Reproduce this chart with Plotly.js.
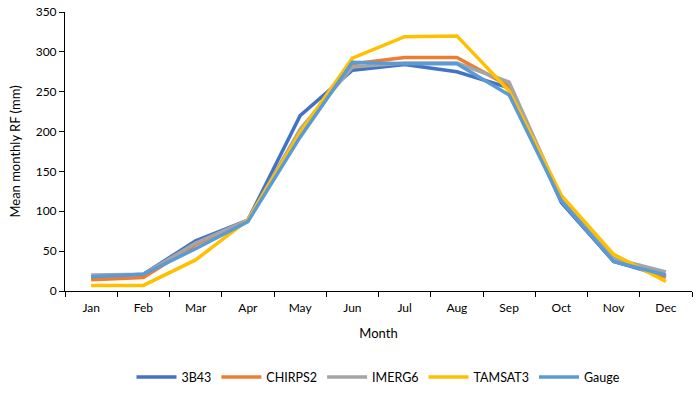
<!DOCTYPE html>
<html lang="en">
<head>
    <meta charset="UTF-8">
    <title>Mean monthly RF</title>
    <script src="https://cdn.plot.ly/plotly-3.0.1.min.js"></script>
    <style>
        body { margin: 0; background: white; }
        #chart { width: 700px; height: 393px; }
    </style>
</head>
<body>
    <div id="chart"></div>
    <script>
        // Mean monthly rainfall (mm) per product
        const months = ['Jan', 'Feb', 'Mar', 'Apr', 'May', 'Jun', 'Jul', 'Aug', 'Sep', 'Oct', 'Nov', 'Dec'];
        const b43     = [18, 21, 63, 89, 220, 277, 284, 275, 255, 111, 37, 18];
        const chirps2 = [14, 17, 58, 89, 200, 285, 293, 293, 257, 115, 40, 17];
        const imerg6  = [20, 21, 60, 89, 203, 281, 286, 286, 262, 116, 41, 24];
        const tamsat3 = [7, 7, 39, 89, 199, 292, 319, 320, 251, 120, 46, 12];
        const gauge   = [18, 21, 53, 87, 193, 287, 285, 285, 246, 113, 37, 20];

        const series = [
            { name: '3B43', y: b43, color: '#4472C4' },
            { name: 'CHIRPS2', y: chirps2, color: '#ED7D31' },
            { name: 'IMERG6', y: imerg6, color: '#A5A5A5' },
            { name: 'TAMSAT3', y: tamsat3, color: '#FFC000' },
            { name: 'Gauge', y: gauge, color: '#5B9BD5' }
        ];

        const data = series.map(s => ({
            type: 'scatter',
            mode: 'lines',
            x: months,
            y: s.y,
            name: s.name,
            line: { color: s.color, width: 3.5 }
        }));

        const font = { family: 'Lato, "Liberation Sans", sans-serif', size: 12, color: '#000' };

        const layout = {
            width: 700,
            height: 393,
            margin: { l: 65, r: 8, t: 12, b: 102, autoexpand: false },
            paper_bgcolor: 'white',
            plot_bgcolor: 'white',
            font: font,
            showlegend: true,
            legend: {
                orientation: 'h',
                x: 0.5, xanchor: 'center',
                y: -0.31, yanchor: 'middle',
                font: { family: font.family, size: 12.5, color: '#000' },
                itemwidth: 40
            },
            xaxis: {
                type: 'category',
                range: [-0.5, 11.5],
                automargin: false,
                showline: true,
                linecolor: '#000',
                linewidth: 1,
                ticks: 'outside',
                tickson: 'boundaries',
                ticklen: 5,
                tickcolor: '#000',
                ticklabelstandoff: 6,
                showgrid: false,
                tickfont: { family: font.family, size: 12, color: '#000' },
                title: { text: 'Month', font: { family: font.family, size: 13, color: '#000' }, standoff: 14 }
            },
            yaxis: {
                range: [0, 350],
                dtick: 50,
                automargin: false,
                showline: true,
                linecolor: '#000',
                linewidth: 1,
                ticks: 'outside',
                ticklen: 5,
                tickcolor: '#000',
                showgrid: false,
                zeroline: false,
                tickfont: { family: font.family, size: 12, color: '#000' },
                title: { text: 'Mean monthly RF (mm)', font: { family: font.family, size: 13, color: '#000' }, standoff: 12 }
            }
        };

        Plotly.newPlot('chart', data, layout, { displayModeBar: false, staticPlot: true });
    </script>
</body>
</html>
